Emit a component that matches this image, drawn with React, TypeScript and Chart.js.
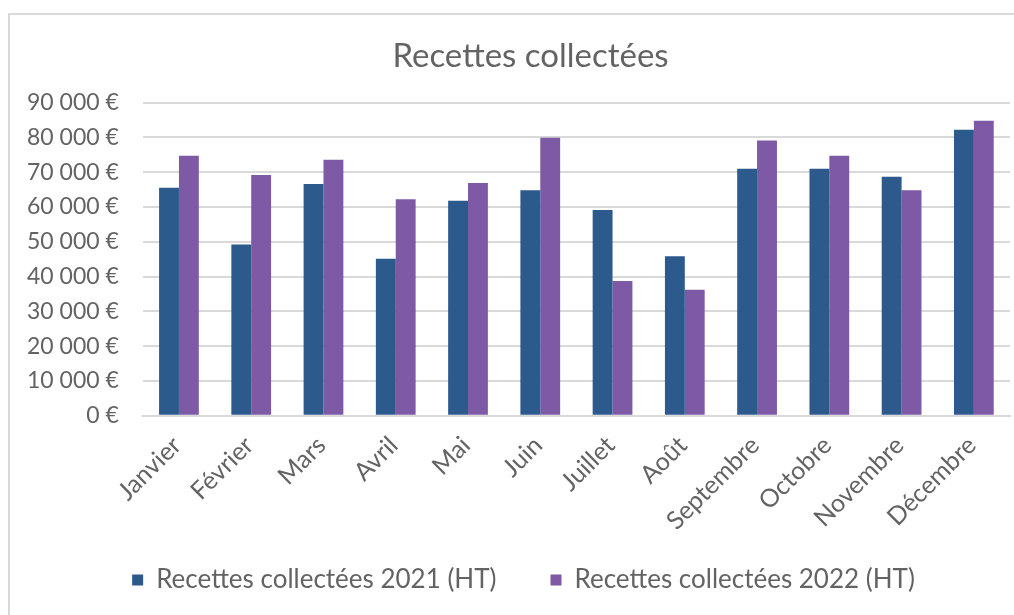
import React, { useEffect, useRef } from "react";
import { Chart, registerables } from "chart.js";

Chart.register(...registerables);

const months = ["Janvier", "Février", "Mars", "Avril", "Mai", "Juin", "Juillet", "Août", "Septembre", "Octobre", "Novembre", "Décembre"];
const recettes2021 = [65500, 49200, 66600, 45100, 61800, 64800, 59100, 45800, 71000, 71000, 68700, 82200];
const recettes2022 = [74700, 69200, 73600, 62200, 66900, 79900, 38700, 36200, 79100, 74700, 64800, 84800];
const seriesLabels = ["Recettes collectées 2021 (HT)", "Recettes collectées 2022 (HT)"];
const titleText = "Recettes collectées";
const yMin = 0;
const yMax = 90000;
const yStep = 10000;

const TEXT = "#636363";
const FONT = "Lato, 'Open Sans', sans-serif";
const LEGEND_FONT = 26;
const LEGEND_HGAP = 54; // horizontal gap between legend items
const LEGEND_VPAD = 19; // vertical padding around legend
const LEGEND_RAISE = 3; // extra upward nudge of legend row
const LEGEND_DX = 17; // horizontal nudge of the legend row
const TITLE_DX = 24; // horizontal nudge of the title (centred on the whole frame)

function formatEuro(v: number): string {
  return String(Math.round(v)).replace(/\B(?=(\d{3})+(?!\d))/g, " ") + " €";
}

function drawShifted(box: any, origDraw: () => void, dx: number, dy: number) {
  const { left, right, top, bottom } = box;
  box.left = left + dx;
  box.right = right + dx;
  box.top = top + dy;
  box.bottom = bottom;
  origDraw();
  box.left = left;
  box.right = right;
  box.top = top;
  box.bottom = bottom;
}

// Wide horizontal legend gap without matching vertical padding; frame-centred title.
const boxNudgePlugin = {
  id: "boxNudge",
  beforeLayout(chart: any) {
    const lg = chart.legend;
    if (lg && !lg.__patched) {
      lg.__patched = true;
      const origFit = lg.fit.bind(lg);
      lg.fit = function () {
        origFit();
        this.height = LEGEND_FONT + 2 * LEGEND_VPAD;
      };
      const origDraw = lg.draw.bind(lg);
      lg.draw = function () {
        drawShifted(this, origDraw, LEGEND_DX, -(LEGEND_HGAP - LEGEND_VPAD) - LEGEND_RAISE);
      };
    }
    const tb = chart.titleBlock;
    if (tb && !tb.__patched) {
      tb.__patched = true;
      const origDraw = tb.draw.bind(tb);
      tb.draw = function () {
        drawShifted(this, origDraw, TITLE_DX, 0);
      };
    }
  },
};

export default function App() {
  const ref = useRef<HTMLCanvasElement | null>(null);
  useEffect(() => {
    if (!ref.current) return;
    const chart = new Chart(ref.current, {
      type: "bar",
      data: {
        labels: months,
        datasets: [
          { label: seriesLabels[0], data: recettes2021, backgroundColor: "#2C5A8C", borderWidth: 0 },
          { label: seriesLabels[1], data: recettes2022, backgroundColor: "#7D59A6", borderWidth: 0 },
        ],
      },
      plugins: [boxNudgePlugin],
      options: {
        animation: false,
        responsive: false,
        maintainAspectRatio: false,
        layout: { padding: { left: 13, right: 60, top: 18, bottom: 0 } },
        datasets: { bar: { categoryPercentage: 0.55, barPercentage: 1 } },
        plugins: {
          title: {
            display: true,
            text: titleText,
            color: TEXT,
            font: { family: FONT, size: 33, weight: "normal" },
            padding: { top: 19, bottom: 26 },
          },
          legend: {
            position: "bottom",
            labels: {
              color: TEXT,
              font: { family: FONT, size: LEGEND_FONT },
              boxWidth: 11,
              boxHeight: 11,
              padding: LEGEND_HGAP,
            },
          },
          tooltip: { enabled: false },
        },
        scales: {
          x: {
            grid: { display: false, drawTicks: false },
            border: { display: true, color: "#d9d9d9", width: 2 },
            ticks: {
              color: TEXT,
              font: { family: FONT, size: 25 },
              maxRotation: 45,
              minRotation: 45,
              padding: 15,
              labelOffset: -2,
            },
          },
          y: {
            min: yMin,
            max: yMax,
            grid: { color: "#d9d9d9", lineWidth: 2, drawTicks: false },
            border: { display: false },
            ticks: {
              stepSize: yStep,
              color: TEXT,
              font: { family: FONT, size: 23 },
              padding: 24,
              callback: (v: any) => formatEuro(Number(v)),
            },
          },
        },
      },
    });
    return () => chart.destroy();
  }, []);

  return (
    <div style={{ position: "fixed", left: 0, top: 0, width: 1014, height: 615, overflow: "hidden", background: "#fff" }}>
      <div style={{ position: "absolute", left: 8, top: 13, width: 1100, height: 700, border: "2px solid #d9d9d9", boxSizing: "border-box" }} />
      <canvas ref={ref} width={1080} height={615} style={{ position: "absolute", left: -10, top: 0, width: 1080, height: 615 }} />
    </div>
  );
}
